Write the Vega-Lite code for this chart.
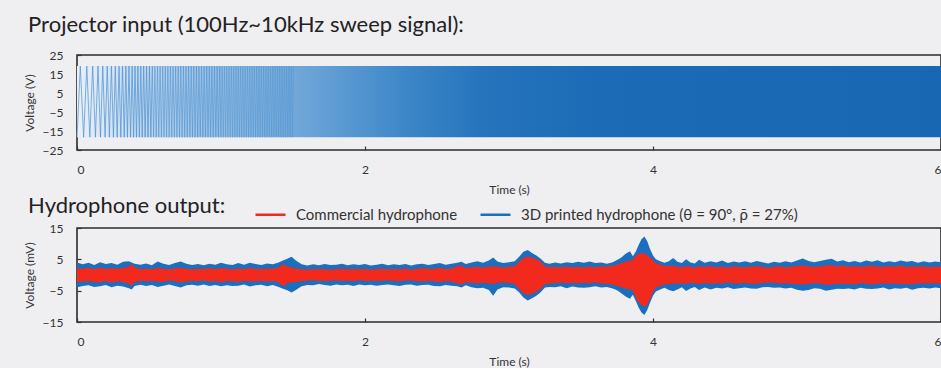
{
  "$schema": "https://vega.github.io/schema/vega-lite/v6.json",
  "background": "#efeef1",
  "padding": {"left": 22, "top": 13, "right": 0, "bottom": 0},
  "spacing": -2,
  "resolve": {"scale": {"color": "independent"}, "legend": {"color": "independent"}},
  "datasets": {
    "band": [
      {"t": 0, "lo": -18.3, "hi": 19.2},
      {"t": 6, "lo": -18.3, "hi": 19.2}
    ],
    "sweep": [
      {"t":0,"v":-18.3,"s":"a"},{"t":0.023,"v":19.2,"s":"a"},{"t":0.046,"v":-18.3,"s":"a"},{"t":0.068,"v":19.2,"s":"a"},
      {"t":0.089,"v":-18.3,"s":"a"},{"t":0.109,"v":19.2,"s":"a"},{"t":0.128,"v":-18.3,"s":"a"},{"t":0.146,"v":19.2,"s":"a"},
      {"t":0.163,"v":-18.3,"s":"a"},{"t":0.179,"v":19.2,"s":"a"},{"t":0.195,"v":-18.3,"s":"a"},{"t":0.21,"v":19.2,"s":"a"},
      {"t":0.225,"v":-18.3,"s":"a"},{"t":0.239,"v":19.2,"s":"a"},{"t":0.253,"v":-18.3,"s":"a"},{"t":0.266,"v":19.2,"s":"a"},
      {"t":0.279,"v":-18.3,"s":"a"},{"t":0.292,"v":19.2,"s":"a"},{"t":0.304,"v":-18.3,"s":"a"},{"t":0.316,"v":19.2,"s":"a"},
      {"t":0.328,"v":-18.3,"s":"a"},{"t":0.339,"v":19.2,"s":"a"},{"t":0.35,"v":-18.3,"s":"a"},{"t":0.361,"v":19.2,"s":"a"},
      {"t":0.372,"v":-18.3,"s":"a"},{"t":0.383,"v":19.2,"s":"a"},{"t":0.393,"v":-18.3,"s":"a"},{"t":0.403,"v":19.2,"s":"a"},
      {"t":0.413,"v":-18.3,"s":"a"},{"t":0.423,"v":19.2,"s":"a"},{"t":0.433,"v":-18.3,"s":"a"},{"t":0.443,"v":19.2,"s":"a"},
      {"t":0.453,"v":-18.3,"s":"a"},{"t":0.463,"v":19.2,"s":"a"},{"t":0.473,"v":-18.3,"s":"a"},{"t":0.483,"v":19.2,"s":"a"},
      {"t":0.493,"v":-18.3,"s":"a"},{"t":0.503,"v":19.2,"s":"a"},{"t":0.513,"v":-18.3,"s":"a"},{"t":0.523,"v":19.2,"s":"a"},
      {"t":0.523,"v":19.2,"s":"b"},{"t":0.532,"v":-18.3,"s":"b"},{"t":0.541,"v":19.2,"s":"b"},{"t":0.55,"v":-18.3,"s":"b"},
      {"t":0.559,"v":19.2,"s":"b"},{"t":0.568,"v":-18.3,"s":"b"},{"t":0.577,"v":19.2,"s":"b"},{"t":0.586,"v":-18.3,"s":"b"},
      {"t":0.595,"v":19.2,"s":"b"},{"t":0.604,"v":-18.3,"s":"b"},{"t":0.613,"v":19.2,"s":"b"},{"t":0.622,"v":-18.3,"s":"b"},
      {"t":0.631,"v":19.2,"s":"b"},{"t":0.64,"v":-18.3,"s":"b"},{"t":0.649,"v":19.2,"s":"b"},{"t":0.658,"v":-18.3,"s":"b"},
      {"t":0.667,"v":19.2,"s":"b"},{"t":0.676,"v":-18.3,"s":"b"},{"t":0.685,"v":19.2,"s":"b"},{"t":0.694,"v":-18.3,"s":"b"},
      {"t":0.703,"v":19.2,"s":"b"},{"t":0.712,"v":-18.3,"s":"b"},{"t":0.721,"v":19.2,"s":"b"},{"t":0.73,"v":-18.3,"s":"b"},
      {"t":0.739,"v":19.2,"s":"b"},{"t":0.748,"v":-18.3,"s":"b"},{"t":0.757,"v":19.2,"s":"b"},{"t":0.766,"v":-18.3,"s":"b"},
      {"t":0.775,"v":19.2,"s":"b"},{"t":0.784,"v":-18.3,"s":"b"},{"t":0.793,"v":19.2,"s":"b"},{"t":0.802,"v":-18.3,"s":"b"},
      {"t":0.811,"v":19.2,"s":"b"},{"t":0.82,"v":-18.3,"s":"b"},{"t":0.829,"v":19.2,"s":"b"},{"t":0.838,"v":-18.3,"s":"b"},
      {"t":0.847,"v":19.2,"s":"b"},{"t":0.856,"v":-18.3,"s":"b"},{"t":0.865,"v":19.2,"s":"b"},{"t":0.874,"v":-18.3,"s":"b"},
      {"t":0.883,"v":19.2,"s":"b"},{"t":0.892,"v":-18.3,"s":"b"},{"t":0.901,"v":19.2,"s":"b"},{"t":0.91,"v":-18.3,"s":"b"},
      {"t":0.919,"v":19.2,"s":"b"},{"t":0.928,"v":-18.3,"s":"b"},{"t":0.937,"v":19.2,"s":"b"},{"t":0.946,"v":-18.3,"s":"b"},
      {"t":0.955,"v":19.2,"s":"b"},{"t":0.964,"v":-18.3,"s":"b"},{"t":0.973,"v":19.2,"s":"b"},{"t":0.982,"v":-18.3,"s":"b"},
      {"t":0.991,"v":19.2,"s":"b"},{"t":1.0,"v":-18.3,"s":"b"},
      {"t":1.0,"v":-18.3,"s":"c"},{"t":1.008,"v":19.2,"s":"c"},{"t":1.016,"v":-18.3,"s":"c"},{"t":1.024,"v":19.2,"s":"c"},
      {"t":1.032,"v":-18.3,"s":"c"},{"t":1.04,"v":19.2,"s":"c"},{"t":1.048,"v":-18.3,"s":"c"},{"t":1.056,"v":19.2,"s":"c"},
      {"t":1.064,"v":-18.3,"s":"c"},{"t":1.072,"v":19.2,"s":"c"},{"t":1.08,"v":-18.3,"s":"c"},{"t":1.088,"v":19.2,"s":"c"},
      {"t":1.096,"v":-18.3,"s":"c"},{"t":1.104,"v":19.2,"s":"c"},{"t":1.112,"v":-18.3,"s":"c"},{"t":1.12,"v":19.2,"s":"c"},
      {"t":1.128,"v":-18.3,"s":"c"},{"t":1.136,"v":19.2,"s":"c"},{"t":1.144,"v":-18.3,"s":"c"},{"t":1.152,"v":19.2,"s":"c"},
      {"t":1.16,"v":-18.3,"s":"c"},{"t":1.168,"v":19.2,"s":"c"},{"t":1.176,"v":-18.3,"s":"c"},{"t":1.184,"v":19.2,"s":"c"},
      {"t":1.192,"v":-18.3,"s":"c"},{"t":1.2,"v":19.2,"s":"c"},{"t":1.208,"v":-18.3,"s":"c"},{"t":1.216,"v":19.2,"s":"c"},
      {"t":1.224,"v":-18.3,"s":"c"},{"t":1.232,"v":19.2,"s":"c"},{"t":1.24,"v":-18.3,"s":"c"},{"t":1.248,"v":19.2,"s":"c"},
      {"t":1.256,"v":-18.3,"s":"c"},{"t":1.264,"v":19.2,"s":"c"},{"t":1.272,"v":-18.3,"s":"c"},{"t":1.28,"v":19.2,"s":"c"},
      {"t":1.288,"v":-18.3,"s":"c"},{"t":1.296,"v":19.2,"s":"c"},{"t":1.304,"v":-18.3,"s":"c"},{"t":1.312,"v":19.2,"s":"c"},
      {"t":1.32,"v":-18.3,"s":"c"},{"t":1.328,"v":19.2,"s":"c"},{"t":1.336,"v":-18.3,"s":"c"},{"t":1.344,"v":19.2,"s":"c"},
      {"t":1.352,"v":-18.3,"s":"c"},{"t":1.36,"v":19.2,"s":"c"},{"t":1.368,"v":-18.3,"s":"c"},{"t":1.376,"v":19.2,"s":"c"},
      {"t":1.384,"v":-18.3,"s":"c"},{"t":1.392,"v":19.2,"s":"c"},{"t":1.4,"v":-18.3,"s":"c"},{"t":1.408,"v":19.2,"s":"c"},
      {"t":1.416,"v":-18.3,"s":"c"},{"t":1.424,"v":19.2,"s":"c"},{"t":1.432,"v":-18.3,"s":"c"},{"t":1.44,"v":19.2,"s":"c"},
      {"t":1.448,"v":-18.3,"s":"c"},{"t":1.456,"v":19.2,"s":"c"},{"t":1.464,"v":-18.3,"s":"c"},{"t":1.472,"v":19.2,"s":"c"},
      {"t":1.48,"v":-18.3,"s":"c"},{"t":1.488,"v":19.2,"s":"c"},{"t":1.496,"v":-18.3,"s":"c"},{"t":1.504,"v":19.2,"s":"c"}
    ],
    "hydro": [
      {"t":0.00,"bu":4.0,"bl":-3.9,"ru":2.2,"rl":-2.2},
      {"t":0.04,"bu":3.4,"bl":-3.5,"ru":2.0,"rl":-2.1},
      {"t":0.08,"bu":3.9,"bl":-3.3,"ru":2.3,"rl":-1.9},
      {"t":0.12,"bu":3.2,"bl":-3.8,"ru":1.9,"rl":-2.2},
      {"t":0.16,"bu":4.1,"bl":-3.6,"ru":2.4,"rl":-2.3},
      {"t":0.20,"bu":3.5,"bl":-3.2,"ru":2.0,"rl":-1.9},
      {"t":0.24,"bu":3.8,"bl":-3.9,"ru":2.2,"rl":-2.4},
      {"t":0.28,"bu":3.3,"bl":-3.4,"ru":2.0,"rl":-2.0},
      {"t":0.32,"bu":4.2,"bl":-3.7,"ru":2.3,"rl":-2.2},
      {"t":0.36,"bu":4.4,"bl":-4.2,"ru":2.6,"rl":-2.8},
      {"t":0.38,"bu":4.0,"bl":-4.6,"ru":3.6,"rl":-3.4},
      {"t":0.40,"bu":3.6,"bl":-3.5,"ru":2.4,"rl":-2.2},
      {"t":0.44,"bu":3.3,"bl":-3.1,"ru":1.9,"rl":-1.8},
      {"t":0.48,"bu":3.7,"bl":-3.5,"ru":2.1,"rl":-2.0},
      {"t":0.52,"bu":3.1,"bl":-3.2,"ru":1.8,"rl":-1.9},
      {"t":0.56,"bu":4.3,"bl":-3.8,"ru":2.3,"rl":-2.1},
      {"t":0.60,"bu":3.6,"bl":-3.4,"ru":2.0,"rl":-2.2},
      {"t":0.64,"bu":3.2,"bl":-3.0,"ru":1.8,"rl":-1.7},
      {"t":0.68,"bu":3.8,"bl":-3.5,"ru":2.1,"rl":-2.0},
      {"t":0.72,"bu":4.3,"bl":-4.0,"ru":2.4,"rl":-2.3},
      {"t":0.76,"bu":3.6,"bl":-3.3,"ru":2.0,"rl":-2.1},
      {"t":0.80,"bu":3.2,"bl":-3.1,"ru":1.8,"rl":-1.8},
      {"t":0.84,"bu":3.5,"bl":-3.4,"ru":2.0,"rl":-2.0},
      {"t":0.88,"bu":3.1,"bl":-3.0,"ru":1.9,"rl":-1.7},
      {"t":0.92,"bu":3.6,"bl":-3.5,"ru":2.2,"rl":-2.1},
      {"t":0.96,"bu":3.3,"bl":-3.2,"ru":1.9,"rl":-1.9},
      {"t":1.00,"bu":3.9,"bl":-3.6,"ru":2.2,"rl":-2.3},
      {"t":1.04,"bu":3.4,"bl":-3.3,"ru":2.0,"rl":-1.9},
      {"t":1.08,"bu":3.2,"bl":-3.5,"ru":1.8,"rl":-2.0},
      {"t":1.12,"bu":3.8,"bl":-3.4,"ru":2.1,"rl":-2.2},
      {"t":1.16,"bu":3.3,"bl":-3.0,"ru":1.9,"rl":-1.8},
      {"t":1.20,"bu":3.9,"bl":-3.7,"ru":2.3,"rl":-2.1},
      {"t":1.24,"bu":3.5,"bl":-3.3,"ru":2.0,"rl":-2.0},
      {"t":1.28,"bu":3.2,"bl":-3.1,"ru":1.9,"rl":-1.8},
      {"t":1.32,"bu":3.7,"bl":-3.6,"ru":2.1,"rl":-2.1},
      {"t":1.36,"bu":3.4,"bl":-3.2,"ru":2.0,"rl":-1.9},
      {"t":1.40,"bu":4.0,"bl":-3.8,"ru":2.4,"rl":-2.3},
      {"t":1.43,"bu":4.6,"bl":-4.4,"ru":3.4,"rl":-3.6},
      {"t":1.46,"bu":5.2,"bl":-4.9,"ru":2.8,"rl":-2.7},
      {"t":1.49,"bu":5.8,"bl":-5.6,"ru":2.4,"rl":-2.3},
      {"t":1.52,"bu":4.6,"bl":-4.8,"ru":2.1,"rl":-2.2},
      {"t":1.56,"bu":3.4,"bl":-3.6,"ru":1.9,"rl":-2.0},
      {"t":1.60,"bu":3.0,"bl":-3.2,"ru":1.7,"rl":-1.8},
      {"t":1.64,"bu":3.4,"bl":-3.3,"ru":1.9,"rl":-1.7},
      {"t":1.68,"bu":3.1,"bl":-2.9,"ru":1.8,"rl":-1.8},
      {"t":1.72,"bu":3.5,"bl":-3.2,"ru":1.9,"rl":-1.9},
      {"t":1.76,"bu":3.2,"bl":-3.4,"ru":1.7,"rl":-1.8},
      {"t":1.80,"bu":3.3,"bl":-3.0,"ru":1.9,"rl":-1.7},
      {"t":1.84,"bu":3.6,"bl":-3.3,"ru":2.0,"rl":-1.9},
      {"t":1.88,"bu":3.1,"bl":-3.1,"ru":1.8,"rl":-1.8},
      {"t":1.92,"bu":3.4,"bl":-3.5,"ru":1.9,"rl":-2.0},
      {"t":1.96,"bu":3.2,"bl":-3.0,"ru":1.8,"rl":-1.7},
      {"t":2.00,"bu":3.5,"bl":-3.3,"ru":2.0,"rl":-1.9},
      {"t":2.04,"bu":3.0,"bl":-3.1,"ru":1.7,"rl":-1.8},
      {"t":2.08,"bu":3.3,"bl":-3.4,"ru":1.9,"rl":-1.9},
      {"t":2.12,"bu":3.6,"bl":-3.2,"ru":2.0,"rl":-1.8},
      {"t":2.16,"bu":3.1,"bl":-3.0,"ru":1.8,"rl":-1.7},
      {"t":2.20,"bu":3.4,"bl":-3.3,"ru":1.9,"rl":-1.9},
      {"t":2.24,"bu":3.2,"bl":-3.5,"ru":1.8,"rl":-2.0},
      {"t":2.28,"bu":3.5,"bl":-3.1,"ru":2.1,"rl":-1.8},
      {"t":2.32,"bu":3.0,"bl":-3.0,"ru":1.7,"rl":-1.7},
      {"t":2.36,"bu":3.4,"bl":-3.4,"ru":2.0,"rl":-2.0},
      {"t":2.40,"bu":3.6,"bl":-3.2,"ru":2.2,"rl":-2.1},
      {"t":2.44,"bu":3.2,"bl":-3.1,"ru":1.9,"rl":-1.8},
      {"t":2.48,"bu":3.5,"bl":-3.5,"ru":2.0,"rl":-2.0},
      {"t":2.52,"bu":3.8,"bl":-3.6,"ru":2.3,"rl":-2.2},
      {"t":2.56,"bu":3.3,"bl":-3.2,"ru":1.9,"rl":-1.9},
      {"t":2.60,"bu":3.6,"bl":-3.4,"ru":2.1,"rl":-2.1},
      {"t":2.64,"bu":3.9,"bl":-3.6,"ru":2.8,"rl":-2.6},
      {"t":2.67,"bu":4.2,"bl":-4.0,"ru":3.0,"rl":-3.0},
      {"t":2.70,"bu":3.5,"bl":-3.3,"ru":2.2,"rl":-2.3},
      {"t":2.74,"bu":4.0,"bl":-3.9,"ru":2.5,"rl":-2.4},
      {"t":2.78,"bu":4.4,"bl":-4.2,"ru":2.6,"rl":-2.7},
      {"t":2.82,"bu":3.9,"bl":-4.1,"ru":2.4,"rl":-2.5},
      {"t":2.86,"bu":4.6,"bl":-4.8,"ru":2.7,"rl":-2.6},
      {"t":2.89,"bu":5.6,"bl":-6.6,"ru":2.8,"rl":-2.9},
      {"t":2.92,"bu":4.3,"bl":-4.6,"ru":2.6,"rl":-2.5},
      {"t":2.96,"bu":3.8,"bl":-3.9,"ru":2.4,"rl":-2.4},
      {"t":3.00,"bu":4.1,"bl":-4.0,"ru":2.6,"rl":-2.5},
      {"t":3.04,"bu":4.4,"bl":-4.3,"ru":2.8,"rl":-2.9},
      {"t":3.07,"bu":5.8,"bl":-5.5,"ru":4.2,"rl":-4.4},
      {"t":3.10,"bu":7.4,"bl":-7.2,"ru":5.4,"rl":-5.8},
      {"t":3.13,"bu":8.0,"bl":-8.1,"ru":5.9,"rl":-6.4},
      {"t":3.16,"bu":7.0,"bl":-7.4,"ru":5.6,"rl":-6.0},
      {"t":3.19,"bu":6.2,"bl":-6.6,"ru":5.0,"rl":-5.3},
      {"t":3.22,"bu":5.2,"bl":-5.5,"ru":4.2,"rl":-4.4},
      {"t":3.25,"bu":3.9,"bl":-4.0,"ru":2.8,"rl":-2.9},
      {"t":3.28,"bu":3.6,"bl":-3.8,"ru":2.5,"rl":-2.6},
      {"t":3.32,"bu":4.0,"bl":-3.9,"ru":2.6,"rl":-2.6},
      {"t":3.36,"bu":3.7,"bl":-3.6,"ru":2.5,"rl":-2.4},
      {"t":3.40,"bu":4.1,"bl":-4.2,"ru":2.7,"rl":-2.6},
      {"t":3.44,"bu":3.8,"bl":-3.7,"ru":2.5,"rl":-2.5},
      {"t":3.48,"bu":4.2,"bl":-4.0,"ru":2.6,"rl":-2.7},
      {"t":3.52,"bu":3.9,"bl":-4.1,"ru":2.4,"rl":-2.5},
      {"t":3.56,"bu":4.3,"bl":-3.9,"ru":2.7,"rl":-2.6},
      {"t":3.60,"bu":3.8,"bl":-3.6,"ru":2.5,"rl":-2.4},
      {"t":3.64,"bu":4.0,"bl":-4.0,"ru":2.8,"rl":-2.7},
      {"t":3.68,"bu":3.6,"bl":-3.8,"ru":2.6,"rl":-2.8},
      {"t":3.72,"bu":4.1,"bl":-4.3,"ru":3.0,"rl":-3.1},
      {"t":3.75,"bu":4.8,"bl":-4.9,"ru":3.3,"rl":-3.4},
      {"t":3.78,"bu":5.6,"bl":-5.8,"ru":3.8,"rl":-3.9},
      {"t":3.81,"bu":6.8,"bl":-6.9,"ru":4.3,"rl":-4.4},
      {"t":3.84,"bu":7.6,"bl":-7.6,"ru":4.6,"rl":-4.5},
      {"t":3.86,"bu":6.0,"bl":-6.3,"ru":4.8,"rl":-5.0},
      {"t":3.88,"bu":7.4,"bl":-8.2,"ru":6.2,"rl":-7.0},
      {"t":3.90,"bu":9.6,"bl":-10.4,"ru":6.8,"rl":-8.6},
      {"t":3.92,"bu":11.4,"bl":-12.0,"ru":7.0,"rl":-9.6},
      {"t":3.94,"bu":12.3,"bl":-12.8,"ru":6.9,"rl":-10.2},
      {"t":3.96,"bu":10.8,"bl":-11.2,"ru":6.4,"rl":-9.4},
      {"t":3.98,"bu":8.2,"bl":-8.8,"ru":5.6,"rl":-7.6},
      {"t":4.00,"bu":6.2,"bl":-6.6,"ru":4.6,"rl":-5.4},
      {"t":4.02,"bu":5.0,"bl":-5.3,"ru":3.8,"rl":-4.0},
      {"t":4.05,"bu":4.4,"bl":-4.6,"ru":3.3,"rl":-3.4},
      {"t":4.08,"bu":3.9,"bl":-4.1,"ru":3.0,"rl":-3.0},
      {"t":4.11,"bu":4.4,"bl":-4.8,"ru":2.8,"rl":-2.9},
      {"t":4.14,"bu":5.4,"bl":-5.2,"ru":3.0,"rl":-2.8},
      {"t":4.17,"bu":4.2,"bl":-4.6,"ru":2.6,"rl":-2.7},
      {"t":4.20,"bu":3.8,"bl":-3.9,"ru":2.5,"rl":-2.6},
      {"t":4.23,"bu":5.0,"bl":-5.1,"ru":2.9,"rl":-2.8},
      {"t":4.26,"bu":4.0,"bl":-4.3,"ru":2.6,"rl":-2.5},
      {"t":4.29,"bu":3.7,"bl":-3.8,"ru":2.4,"rl":-2.6},
      {"t":4.32,"bu":4.9,"bl":-4.8,"ru":2.8,"rl":-2.9},
      {"t":4.36,"bu":3.9,"bl":-4.0,"ru":2.6,"rl":-2.5},
      {"t":4.40,"bu":4.4,"bl":-4.6,"ru":2.9,"rl":-2.8},
      {"t":4.44,"bu":4.0,"bl":-4.1,"ru":2.5,"rl":-2.6},
      {"t":4.48,"bu":4.6,"bl":-4.3,"ru":2.7,"rl":-2.7},
      {"t":4.52,"bu":3.8,"bl":-3.9,"ru":2.4,"rl":-2.4},
      {"t":4.56,"bu":4.3,"bl":-4.5,"ru":2.8,"rl":-2.6},
      {"t":4.60,"bu":4.0,"bl":-4.2,"ru":2.6,"rl":-2.7},
      {"t":4.64,"bu":4.4,"bl":-4.0,"ru":2.5,"rl":-2.5},
      {"t":4.68,"bu":3.9,"bl":-4.3,"ru":2.7,"rl":-2.8},
      {"t":4.72,"bu":4.5,"bl":-4.4,"ru":2.9,"rl":-2.7},
      {"t":4.76,"bu":4.1,"bl":-3.9,"ru":2.6,"rl":-2.6},
      {"t":4.80,"bu":3.7,"bl":-3.8,"ru":2.3,"rl":-2.4},
      {"t":4.84,"bu":4.2,"bl":-4.1,"ru":2.6,"rl":-2.5},
      {"t":4.88,"bu":3.9,"bl":-4.0,"ru":2.8,"rl":-2.7},
      {"t":4.92,"bu":4.4,"bl":-4.3,"ru":2.5,"rl":-2.6},
      {"t":4.96,"bu":4.0,"bl":-4.1,"ru":2.7,"rl":-2.8},
      {"t":5.00,"bu":4.6,"bl":-4.7,"ru":2.9,"rl":-2.9},
      {"t":5.04,"bu":5.3,"bl":-5.0,"ru":3.1,"rl":-3.0},
      {"t":5.08,"bu":4.5,"bl":-4.8,"ru":2.8,"rl":-2.9},
      {"t":5.12,"bu":4.1,"bl":-4.2,"ru":2.6,"rl":-2.6},
      {"t":5.16,"bu":4.5,"bl":-4.4,"ru":2.8,"rl":-2.7},
      {"t":5.20,"bu":4.9,"bl":-5.0,"ru":3.0,"rl":-3.1},
      {"t":5.24,"bu":5.2,"bl":-4.7,"ru":3.2,"rl":-3.0},
      {"t":5.28,"bu":4.3,"bl":-4.4,"ru":2.8,"rl":-2.8},
      {"t":5.32,"bu":4.7,"bl":-4.5,"ru":3.0,"rl":-2.9},
      {"t":5.36,"bu":4.1,"bl":-4.3,"ru":2.7,"rl":-2.8},
      {"t":5.40,"bu":4.5,"bl":-4.6,"ru":2.9,"rl":-3.0},
      {"t":5.44,"bu":4.0,"bl":-4.1,"ru":2.6,"rl":-2.6},
      {"t":5.48,"bu":4.6,"bl":-4.4,"ru":2.8,"rl":-2.7},
      {"t":5.52,"bu":4.2,"bl":-4.5,"ru":3.0,"rl":-3.0},
      {"t":5.56,"bu":4.7,"bl":-4.3,"ru":2.7,"rl":-2.8},
      {"t":5.60,"bu":4.0,"bl":-4.0,"ru":2.6,"rl":-2.6},
      {"t":5.64,"bu":4.4,"bl":-4.6,"ru":2.9,"rl":-2.8},
      {"t":5.68,"bu":4.1,"bl":-4.2,"ru":2.7,"rl":-2.7},
      {"t":5.72,"bu":4.6,"bl":-4.4,"ru":3.0,"rl":-2.9},
      {"t":5.76,"bu":4.2,"bl":-4.1,"ru":2.6,"rl":-2.8},
      {"t":5.80,"bu":4.5,"bl":-4.7,"ru":2.8,"rl":-3.0},
      {"t":5.84,"bu":3.9,"bl":-4.2,"ru":2.6,"rl":-2.6},
      {"t":5.88,"bu":4.4,"bl":-4.1,"ru":2.8,"rl":-2.7},
      {"t":5.92,"bu":4.0,"bl":-4.3,"ru":2.5,"rl":-2.6},
      {"t":5.96,"bu":4.3,"bl":-4.0,"ru":2.7,"rl":-2.6},
      {"t":6.00,"bu":4.1,"bl":-4.2,"ru":2.6,"rl":-2.7}
    ]
  },
  "vconcat": [
    {
      "title": {"text": "Projector input (100Hz~10kHz sweep signal):", "offset": 12, "dx": 5},
      "width": 864,
      "height": 95,
      "layer": [
        {
          "data": {"name": "band"},
          "mark": {
            "type": "area",
            "color": {
              "gradient": "linear", "x1": 0, "y1": 0, "x2": 1, "y2": 0,
              "stops": [
                {"offset": 0, "color": "#e9f0f8"},
                {"offset": 0.06, "color": "#cbdef1"},
                {"offset": 0.13, "color": "#a6c7e7"},
                {"offset": 0.22, "color": "#80b0dd"},
                {"offset": 0.3, "color": "#5d9bd3"},
                {"offset": 0.38, "color": "#3d87c8"},
                {"offset": 0.47, "color": "#2574bc"},
                {"offset": 0.6, "color": "#1b6bb6"},
                {"offset": 1, "color": "#1767b3"}
              ]
            }
          },
          "encoding": {
            "x": {"field": "t", "type": "quantitative", "scale": {"domain": [0, 6], "nice": false},
                  "axis": {"values": [0, 2, 4, 6], "tickCount": 30, "format": "d", "title": "Time (s)",
                           "encode": {"labels": {"update": {"align": {"signal": "datum.value === 6 ? 'right' : 'center'"}}}}}},
            "y": {"field": "hi", "type": "quantitative", "scale": {"domain": [-25, 25], "nice": false},
                  "axis": {"values": [-25, -15, -5, 5, 15, 25], "tickCount": 20, "format": "d", "title": "Voltage (V)"}},
            "y2": {"field": "lo"}
          }
        },
        {
          "data": {"name": "sweep"},
          "mark": {"type": "line", "color": "#4f93d1", "strokeWidth": 0.8},
          "encoding": {
            "x": {"field": "t", "type": "quantitative"},
            "y": {"field": "v", "type": "quantitative"},
            "detail": {"field": "s", "type": "nominal"},
            "opacity": {"field": "s", "type": "nominal", "scale": {"domain": ["a", "b", "c"], "range": [0.9, 0.6, 0.35]}, "legend": null}
          }
        }
      ]
    },
    {
      "title": {"text": "Hydrophone output:", "offset": -20, "dx": 5},
      "width": 864,
      "height": 94,
      "data": {"name": "hydro"},
      "layer": [
        {
          "mark": {"type": "area"},
          "encoding": {
            "x": {"field": "t", "type": "quantitative", "scale": {"domain": [0, 6], "nice": false},
                  "axis": {"values": [0, 2, 4, 6], "tickCount": 30, "format": "d", "title": "Time (s)",
                           "encode": {"labels": {"update": {"align": {"signal": "datum.value === 6 ? 'right' : 'center'"}}}}}},
            "y": {"field": "bu", "type": "quantitative", "scale": {"domain": [-15, 15], "nice": false},
                  "axis": {"values": [-15, -5, 5, 15], "tickCount": 20, "format": "d", "title": "Voltage (mV)"}},
            "y2": {"field": "bl"},
            "color": {
              "datum": "3D printed hydrophone (θ = 90°, ρ̄ = 27%)",
              "type": "nominal",
              "scale": {
                "domain": ["Commercial hydrophone", "3D printed hydrophone (θ = 90°, ρ̄ = 27%)"],
                "range": ["#f2291d", "#1b6fbe"]
              },
              "legend": {
                "title": null,
                "orient": "none",
                "direction": "horizontal",
                "legendX": 177,
                "legendY": -30,
                "padding": 0,
                "symbolType": "stroke",
                "symbolSize": 900,
                "symbolStrokeWidth": 2.5,
                "labelFont": "Lato",
                "labelFontSize": 15,
                "labelColor": "#333",
                "labelOffset": 9,
                "labelLimit": 500,
                "columnPadding": 17,
                "encode": {"symbols": {"update": {
                  "stroke": {"signal": "datum.value === 'Commercial hydrophone' ? '#f2291d' : '#1b6fbe'"},
                  "fill": {"value": "transparent"},
                  "strokeWidth": {"value": 2.5}}}}
              }
            }
          }
        },
        {
          "mark": {"type": "area"},
          "encoding": {
            "x": {"field": "t", "type": "quantitative"},
            "y": {"field": "ru", "type": "quantitative"},
            "y2": {"field": "rl"},
            "color": {"datum": "Commercial hydrophone", "type": "nominal"}
          }
        }
      ]
    }
  ],
  "config": {
    "font": "Lato",
    "view": {"stroke": "#2b2b2b", "strokeWidth": 1.6},
    "axis": {
      "labelFont": "Lato", "labelFontSize": 12, "labelColor": "#333", "labelOverlap": false,
      "titleFont": "Lato", "titleFontSize": 12, "titleFontWeight": "normal", "titleColor": "#333",
      "grid": false, "domain": false, "ticks": true, "tickColor": "#333", "tickSize": -4, "tickWidth": 1.2
    },
    "axisX": {"labelPadding": 18, "titlePadding": 9, "labelAngle": 0},
    "axisY": {"labelPadding": 18, "titlePadding": 6},
    "title": {"font": "Lato", "fontSize": 22, "fontWeight": "normal", "color": "#222", "anchor": "start", "frame": "bounds"}
  }
}
